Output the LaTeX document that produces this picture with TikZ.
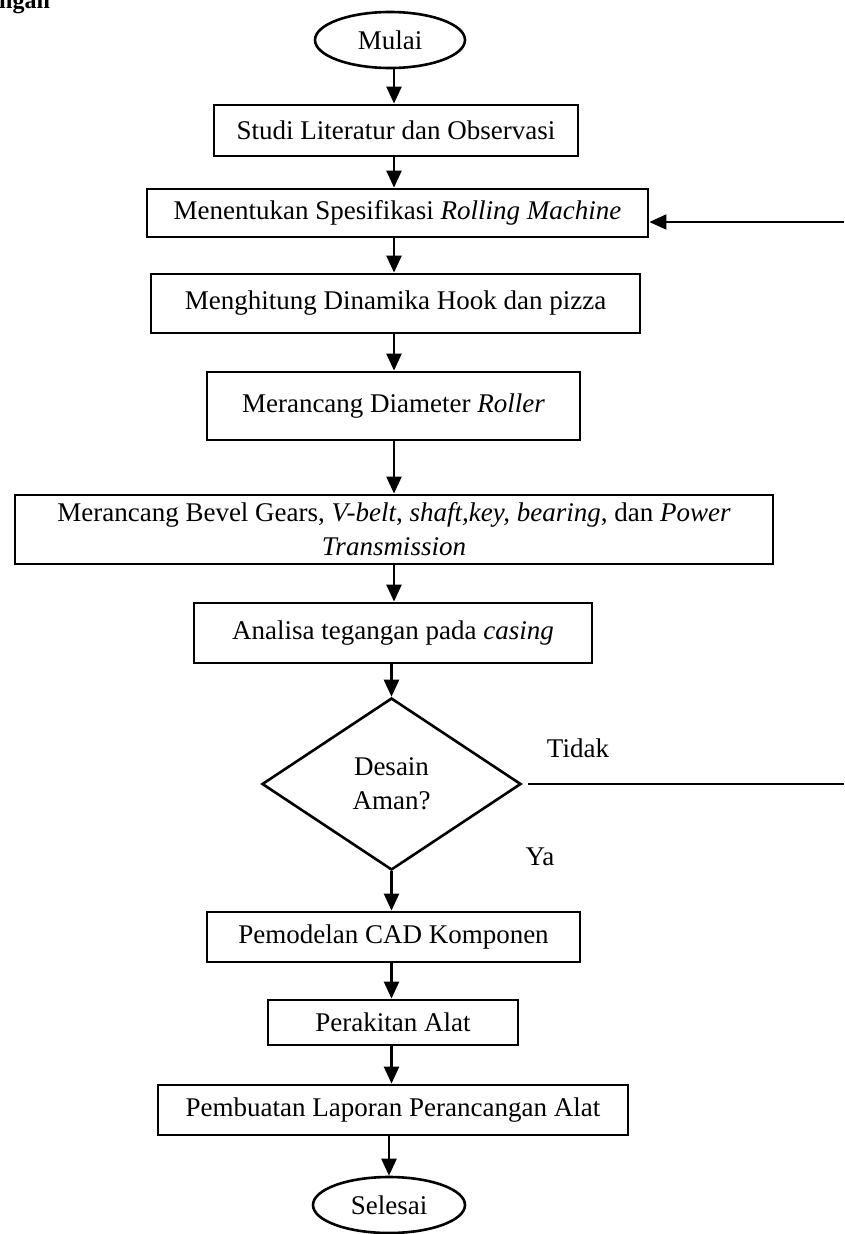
\documentclass[tikz,border=0pt]{standalone}
\usepackage{fontspec}
\setmainfont{Liberation Serif}
\usetikzlibrary{shapes.geometric,arrows.meta}
\begin{document}
\begin{tikzpicture}[x=1pt,y=-1pt,
  every node/.style={font=\fontsize{27}{34}\selectfont},
  box/.style={draw,line width=2.8pt,rectangle,inner sep=0pt,align=center},
  term/.style={draw,line width=2.6pt,ellipse,inner sep=0pt},
  decision/.style={draw,line width=2.6pt,diamond,inner sep=0pt,align=center},
  arr/.style={line width=2.4pt,-{Triangle[length=17pt,width=15pt]}},
  plainline/.style={line width=1.6pt},
  lbl/.style={inner sep=0pt}]
\useasboundingbox (0,0) rectangle (844,1234);

\node[lbl,anchor=base west,font=\fontsize{24}{28}\selectfont\bfseries] (hdr) at (-1,9) {ngan};

\node[term,minimum width=150pt,minimum height=56pt] (start) at (390,40) {Mulai};
\node[box,minimum width=364pt,minimum height=51pt] (b1) at (396,130.5) {Studi Literatur dan Observasi};
\node[box,minimum width=501pt,minimum height=48pt] (b2) at (397.5,213) {Menentukan Spesifikasi \textit{Rolling Machine}};
\node[box,minimum width=489pt,minimum height=59pt] (b3) at (395.5,303.5) {Menghitung Dinamika Hook dan pizza};
\node[box,minimum width=373pt,minimum height=68pt] (b4) at (393.5,406) {Merancang Diameter \textit{Roller}};
\node[box,minimum width=758pt,minimum height=69pt] (b5) at (394,529.5) {Merancang Bevel Gears, \textit{V-belt}, \textit{shaft,key, bearing}, dan \textit{Power}\\\textit{Transmission}};
\node[box,minimum width=398pt,minimum height=60pt] (b6) at (393,633) {Analisa tegangan pada \textit{casing}};
\node[decision,minimum width=259pt,minimum height=172pt] (dia) at (391.5,784) {Desain\\Aman?};
\node[box,minimum width=373pt,minimum height=50pt] (b7) at (393.5,937) {Pemodelan CAD Komponen};
\node[box,minimum width=250pt,minimum height=45pt] (b8) at (393,1022.5) {Perakitan Alat};
\node[box,minimum width=470pt,minimum height=50pt] (b9) at (393,1110) {Pembuatan Laporan Perancangan Alat};
\node[term,minimum width=152pt,minimum height=56pt] (stop) at (389,1205) {Selesai};

\node[lbl] (tidak) at (578,748) {Tidak};
\node[lbl] (ya) at (540,857) {Ya};

\coordinate (spine) at (394,0);
\draw[arr] (start.south -| spine) -- (b1.north -| spine);
\draw[arr] (b1.south -| spine) -- (b2.north -| spine);
\draw[arr] (b2.south -| spine) -- (b3.north -| spine);
\draw[arr] (b3.south -| spine) -- (b4.north -| spine);
\draw[arr] (b4.south -| spine) -- (b5.north -| spine);
\draw[arr] (b5.south -| spine) -- (b6.north -| spine);
\draw[arr] (b6.south -| dia) -- (dia.north);
\draw[arr] (dia.south) -- (b7.north -| dia);
\draw[arr] (b7.south -| dia) -- (b8.north -| dia);
\draw[arr] (b8.south -| dia) -- (b9.north -| dia);
\draw[arr] (b9.south -| stop) -- (stop.north);

\coordinate (fbR) at (844,784);
\coordinate (fbT) at (844,222);
\draw[plainline,shorten <=6pt] (dia.east) -- (fbR);
\draw[arr,line width=2pt] (fbT) -- (b2.east |- fbT);
\end{tikzpicture}
\end{document}
